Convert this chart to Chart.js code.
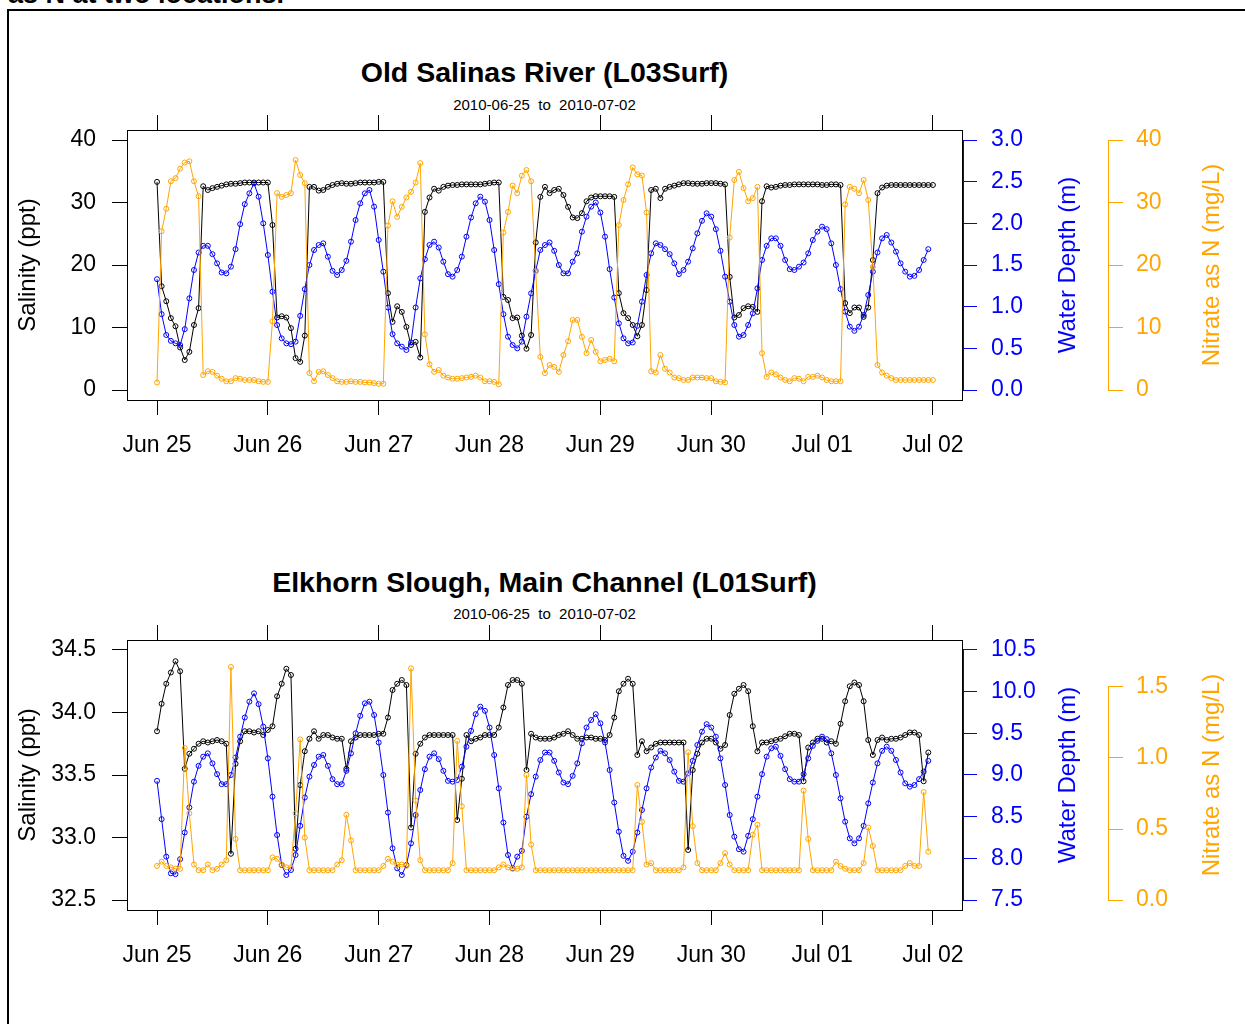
<!DOCTYPE html>
<html>
<head>
<meta charset="utf-8">
<script src="https://cdn.jsdelivr.net/npm/chart.js@4.4.0/dist/chart.umd.min.js"></script>
<style>
  body { margin:0; width:1245px; height:1024px; background:#fff; position:relative; overflow:hidden;
         font-family:"Liberation Sans", Arial, sans-serif; }
  #lead { position:absolute; left:8px; top:-19px; font-size:27px; line-height:27px; font-weight:bold; white-space:nowrap; }
  #frame { position:absolute; left:7px; top:9px; width:1400px; height:1200px; border-top:2px solid #000; border-left:2px solid #000; }
  .ttl { position:absolute; left:127px; width:835px; text-align:center; font-weight:bold; font-size:28.5px; line-height:28px; white-space:nowrap; }
  .sub { position:absolute; left:127px; width:835px; text-align:center; font-size:15px; line-height:15px; white-space:pre; }
  .yt { position:absolute; width:300px; height:24px; line-height:24px; font-size:24px; text-align:center;
        transform:rotate(-90deg); white-space:nowrap; }
  canvas { position:absolute; left:0; }
</style>
</head>
<body>
<div id="lead">as N at two locations.</div>
<div id="frame"></div>

<div class="ttl" style="top:58px">Old Salinas River (L03Surf)</div>
<div class="sub" style="top:97px">2010-06-25  to  2010-07-02</div>
<canvas id="osr" width="1245" height="370" style="top:100px"></canvas>
<div class="yt" style="left:-123px; top:253px; color:#000">Salinity (ppt)</div>
<div class="yt" style="left:917px; top:253px; color:#0000ff">Water Depth (m)</div>
<div class="yt" style="left:1061px; top:253px; color:#ffa500">Nitrate as N (mg/L)</div>

<div class="ttl" style="top:568px">Elkhorn Slough, Main Channel (L01Surf)</div>
<div class="sub" style="top:606px">2010-06-25  to  2010-07-02</div>
<canvas id="elk" width="1245" height="370" style="top:610px"></canvas>
<div class="yt" style="left:-123px; top:763px; color:#000">Salinity (ppt)</div>
<div class="yt" style="left:917px; top:763px; color:#0000ff">Water Depth (m)</div>
<div class="yt" style="left:1061px; top:763px; color:#ffa500">Nitrate as N (mg/L)</div>

<script>
// hourly readings, 2010-06-25 00:00 onwards (index = hours since start)
const dayTicks = [0, 24, 48, 72, 96, 120, 144, 168];
const dayLabels = ['Jun 25', 'Jun 26', 'Jun 27', 'Jun 28', 'Jun 29', 'Jun 30', 'Jul 01', 'Jul 02'];

// Old Salinas River (L03Surf)
const salinityOSR = [
  33.3,16.6,14.2,11.5,10.2,6.8,4.8,6.1,10.4,13.1,
  32.6,32.0,32.3,32.5,32.7,32.9,33.0,33.0,33.1,33.2,
  33.2,33.2,33.2,33.2,33.2,26.4,11.6,11.8,11.6,9.9,
  5.1,4.5,8.7,32.5,32.5,31.9,32.0,32.5,32.8,33.0,
  33.1,33.0,33.0,33.1,33.2,33.2,33.2,33.2,33.3,33.3,
  15.5,10.9,13.4,12.5,10.1,7.2,7.7,5.2,28.5,30.8,
  32.2,31.9,32.5,32.7,32.8,32.8,32.9,32.9,32.9,32.9,
  32.9,33.0,33.1,33.2,33.2,14.9,14.4,11.5,11.6,8.7,
  6.6,8.8,23.6,30.9,32.5,31.5,32.0,32.2,31.2,29.3,
  27.6,27.5,28.3,30.2,30.8,31.0,31.0,31.0,31.0,30.9,
  15.5,12.3,11.5,10.4,8.6,10.4,16.0,32.0,32.2,30.7,
  32.2,32.5,32.7,32.9,33.1,33.1,33.0,33.0,33.0,33.1,
  33.1,33.1,33.0,32.9,18.1,11.6,12.0,13.1,13.4,13.3,
  12.5,30.2,32.6,32.4,32.5,32.7,32.8,32.8,32.9,32.9,
  32.9,32.9,32.9,32.9,32.8,32.8,32.9,32.9,32.8,13.9,
  12.3,13.2,13.2,11.7,13.2,20.8,31.5,32.4,32.7,32.8,
  32.8,32.8,32.8,32.8,32.8,32.8,32.8,32.8,32.8];
const depthOSR = [
  1.33,0.91,0.66,0.59,0.56,0.54,0.73,1.10,1.44,1.65,
  1.73,1.73,1.63,1.52,1.41,1.40,1.48,1.69,1.99,2.23,
  2.36,2.48,2.32,2.00,1.62,1.18,0.78,0.62,0.56,0.55,
  0.58,0.89,1.21,1.50,1.68,1.74,1.76,1.60,1.43,1.38,
  1.44,1.55,1.78,2.04,2.24,2.36,2.40,2.20,1.80,1.42,
  0.99,0.67,0.56,0.52,0.48,0.57,0.99,1.34,1.57,1.74,
  1.78,1.71,1.54,1.39,1.36,1.44,1.60,1.84,2.07,2.24,
  2.32,2.26,2.04,1.68,1.27,0.91,0.64,0.54,0.50,0.58,
  0.88,1.16,1.43,1.68,1.74,1.77,1.67,1.50,1.40,1.40,
  1.54,1.64,1.90,2.08,2.20,2.25,2.13,1.84,1.45,1.11,
  0.80,0.62,0.56,0.57,0.77,1.06,1.38,1.64,1.76,1.74,
  1.69,1.63,1.52,1.39,1.44,1.54,1.70,1.88,2.03,2.12,
  2.08,1.93,1.67,1.36,1.06,0.78,0.64,0.66,0.78,0.92,
  1.22,1.56,1.73,1.82,1.82,1.73,1.56,1.45,1.44,1.48,
  1.53,1.64,1.80,1.90,1.96,1.93,1.76,1.50,1.21,0.94,
  0.76,0.71,0.76,0.90,1.14,1.42,1.65,1.82,1.86,1.77,
  1.66,1.52,1.42,1.36,1.37,1.44,1.56,1.69];
const nitrateOSR = [
  1.2,25.4,29.0,33.4,33.9,35.4,36.4,36.6,33.4,31.0,
  2.4,3.0,2.9,2.3,1.8,1.4,1.4,1.9,1.8,1.6,
  1.6,1.6,1.4,1.3,1.3,11.0,31.5,30.9,31.2,31.5,
  36.8,34.4,33.1,2.7,1.4,2.9,3.0,2.4,1.9,1.4,
  1.3,1.3,1.4,1.3,1.3,1.2,1.2,1.1,1.0,1.0,
  26.3,30.2,27.7,29.3,30.8,31.7,33.2,36.3,8.9,4.1,
  2.9,3.2,2.3,2.0,1.8,1.8,1.9,2.0,2.1,2.3,
  2.0,1.4,1.4,1.3,0.9,25.2,28.5,32.7,31.5,34.3,
  35.2,33.4,19.0,5.3,2.7,4.0,3.7,2.9,5.6,7.8,
  11.2,11.2,8.5,5.9,8.0,6.1,4.6,4.8,5.0,4.6,
  26.4,30.4,32.9,35.6,34.5,34.3,28.4,3.0,2.8,5.6,
  3.4,2.8,2.0,1.9,1.6,1.6,2.0,2.0,2.0,1.9,
  1.9,1.4,1.3,1.2,24.4,33.6,34.9,32.3,30.2,30.7,
  32.5,5.9,2.1,2.8,2.5,2.0,1.6,1.4,1.9,1.8,
  1.4,2.1,2.1,2.3,2.0,1.6,1.4,1.4,1.4,29.7,
  32.5,32.2,31.5,33.6,30.4,19.7,4.0,2.8,2.3,1.9,
  1.6,1.6,1.6,1.6,1.6,1.6,1.6,1.6,1.6];

// Elkhorn Slough, Main Channel (L01Surf)
const salinityELK = [
  33.85,34.07,34.23,34.32,34.41,34.33,33.55,33.67,33.71,33.75,
  33.77,33.76,33.77,33.78,33.77,33.75,32.87,33.59,33.77,33.85,
  33.85,33.84,33.85,33.82,33.86,33.89,34.13,34.23,34.35,34.30,
  32.91,33.42,33.69,33.79,33.85,33.79,33.82,33.82,33.80,33.79,
  33.79,33.55,33.77,33.80,33.82,33.82,33.82,33.82,33.83,33.83,
  33.96,34.18,34.23,34.26,34.22,33.08,33.67,33.75,33.80,33.82,
  33.82,33.82,33.82,33.82,33.82,33.14,33.47,33.82,33.77,33.79,
  33.80,33.82,33.82,33.82,33.88,34.04,34.22,34.26,34.26,34.23,
  33.54,33.83,33.80,33.79,33.79,33.79,33.80,33.82,33.83,33.85,
  33.82,33.79,33.79,33.80,33.80,33.79,33.79,33.78,33.82,33.96,
  34.17,34.23,34.27,34.23,33.66,33.77,33.69,33.72,33.75,33.76,
  33.76,33.76,33.76,33.76,33.76,32.90,33.54,33.67,33.76,33.79,
  33.79,33.76,33.71,33.74,33.98,34.15,34.19,34.22,34.17,33.89,
  33.69,33.76,33.76,33.77,33.78,33.79,33.81,33.83,33.83,33.82,
  33.45,33.72,33.76,33.79,33.79,33.76,33.77,33.75,33.91,34.09,
  34.21,34.24,34.22,34.09,33.78,33.66,33.78,33.80,33.78,33.79,
  33.79,33.80,33.82,33.84,33.84,33.82,33.45,33.68];
const depthELK = [
  8.93,8.47,8.02,7.82,7.81,7.99,8.31,8.61,8.92,9.11,
  9.22,9.26,9.14,9.01,8.89,8.89,9.00,9.21,9.46,9.69,
  9.88,9.98,9.85,9.58,9.20,8.74,8.28,7.92,7.80,7.86,
  8.04,8.39,8.73,8.98,9.12,9.22,9.24,9.11,8.95,8.89,
  8.89,9.05,9.26,9.50,9.71,9.86,9.88,9.72,9.39,9.00,
  8.55,8.12,7.88,7.80,7.92,8.18,8.52,8.82,9.07,9.22,
  9.26,9.19,9.05,8.93,8.92,8.94,9.10,9.34,9.53,9.73,
  9.82,9.77,9.57,9.24,8.84,8.43,8.04,7.88,8.02,8.09,
  8.50,8.77,8.98,9.18,9.27,9.27,9.17,9.03,8.91,8.89,
  8.99,9.14,9.38,9.57,9.66,9.73,9.62,9.39,9.06,8.67,
  8.32,8.03,7.97,8.08,8.31,8.58,8.84,9.09,9.21,9.29,
  9.26,9.18,9.04,8.93,8.92,9.02,9.17,9.36,9.52,9.61,
  9.57,9.46,9.20,8.88,8.52,8.26,8.11,8.08,8.27,8.47,
  8.74,9.01,9.22,9.32,9.34,9.23,9.07,8.95,8.92,8.92,
  9.01,9.20,9.35,9.41,9.46,9.43,9.26,9.00,8.72,8.44,
  8.24,8.18,8.24,8.39,8.66,8.91,9.14,9.29,9.34,9.29,
  9.18,9.03,8.90,8.86,8.88,8.95,9.04,9.17];
const nitrateELK = [
  0.24,0.27,0.24,0.23,0.22,0.22,1.07,0.61,0.25,0.21,
  0.21,0.25,0.21,0.22,0.25,0.28,1.64,0.43,0.21,0.21,
  0.21,0.21,0.21,0.21,0.21,0.30,0.29,0.25,0.23,0.23,
  0.61,1.13,0.44,0.21,0.21,0.21,0.21,0.21,0.21,0.25,
  0.28,0.60,0.42,0.21,0.21,0.21,0.21,0.21,0.21,0.24,
  0.29,0.27,0.25,0.25,0.24,1.63,0.70,0.28,0.21,0.21,
  0.21,0.21,0.21,0.21,0.26,1.12,0.66,0.21,0.21,0.21,
  0.21,0.21,0.21,0.21,0.23,0.25,0.23,0.22,0.22,0.23,
  0.88,0.39,0.21,0.21,0.21,0.21,0.21,0.21,0.21,0.21,
  0.21,0.21,0.21,0.21,0.21,0.21,0.21,0.21,0.21,0.21,
  0.21,0.21,0.21,0.21,0.81,0.55,0.25,0.26,0.21,0.21,
  0.21,0.21,0.21,0.21,0.23,1.04,0.52,0.26,0.21,0.21,
  0.21,0.21,0.26,0.33,0.25,0.21,0.21,0.21,0.21,0.46,
  0.53,0.21,0.21,0.21,0.21,0.21,0.21,0.21,0.21,0.21,
  0.77,0.43,0.21,0.21,0.21,0.21,0.21,0.27,0.24,0.22,
  0.21,0.21,0.21,0.26,0.51,0.38,0.21,0.21,0.21,0.21,
  0.21,0.21,0.24,0.26,0.24,0.24,0.76,0.34];

// axis tick values
const salTicksOSR = [0, 10, 20, 30, 40];
const depTicksOSR = [0, 0.5, 1, 1.5, 2, 2.5, 3];
const nitTicksOSR = [0, 10, 20, 30, 40];
const salTicksELK = [32.5, 33, 33.5, 34, 34.5];
const depTicksELK = [7.5, 8, 8.5, 9, 9.5, 10, 10.5];
const nitTicksELK = [0, 0.5, 1, 1.5];

const FONT = '"Liberation Sans", Arial, sans-serif';
const BLUE = '#0000ff';
const ORANGE = '#ffa500';

const int0 = v => String(v);
const dec1 = v => v.toFixed(1);

// box round the plot, plus the R-style axis lines that only span the tick range
const rBox = {
  id: 'rBox',
  afterDraw(chart) {
    const ctx = chart.ctx, a = chart.chartArea;
    const dep = chart.scales.dep, nit = chart.scales.nit;
    ctx.save();
    ctx.lineWidth = 1;
    ctx.strokeStyle = '#000';
    ctx.strokeRect(Math.round(a.left) + 0.5, Math.round(a.top) + 0.5,
                   Math.round(a.right - a.left), Math.round(a.bottom - a.top));
    const vline = (x, s) => {
      ctx.beginPath();
      ctx.moveTo(x, s.getPixelForValue(s.ticks[0].value));
      ctx.lineTo(x, s.getPixelForValue(s.ticks[s.ticks.length - 1].value));
      ctx.stroke();
    };
    ctx.strokeStyle = BLUE;
    vline(Math.round(a.right) + 1.5, dep);
    ctx.strokeStyle = ORANGE;
    vline(Math.round(nit.left) + 0.5, nit);
    ctx.restore();
  }
};

function xScale(pos, h, labels) {
  return {
    type: 'linear', position: pos, min: -6.5, max: 174.3,
    afterBuildTicks: s => { s.ticks = dayTicks.map(v => ({value: v})); },
    afterFit: s => { s.height = h; },
    border: {display: false},
    grid: {drawOnChartArea: false, drawTicks: true, tickLength: 15, tickColor: '#000', tickWidth: 1},
    ticks: {display: labels, autoSkip: false, maxRotation: 0, padding: 17, color: '#000',
            font: {family: FONT, size: 23},
            callback: v => dayLabels[dayTicks.indexOf(v)]}
  };
}

function yScale(pos, min, max, ticks, fmt, color, w, pad, weight) {
  return {
    type: 'linear', position: pos, min, max, weight,
    afterBuildTicks: s => { s.ticks = ticks.map(v => ({value: v})); },
    afterFit: s => { s.width = w; },
    border: {display: false},
    grid: {drawOnChartArea: false, drawTicks: true, tickLength: 15, tickColor: color, tickWidth: 1},
    ticks: {autoSkip: false, padding: pad, color, font: {family: FONT, size: 23}, callback: fmt}
  };
}

function series(label, vals, axis, color, order) {
  return {
    label, yAxisID: axis, order,
    data: vals.map((v, i) => ({x: i, y: v})),
    borderColor: color, borderWidth: 1, tension: 0,
    pointRadius: 2.5, pointBorderWidth: 1, pointBorderColor: color,
    pointBackgroundColor: 'rgba(0,0,0,0)'
  };
}

function makePanel(id, sal, dep, nit, ax) {
  return new Chart(document.getElementById(id), {
    type: 'line',
    data: {datasets: [
      series('Salinity (ppt)', sal, 'sal', '#000', 3),
      series('Water Depth (m)', dep, 'dep', BLUE, 2),
      series('Nitrate as N (mg/L)', nit, 'nit', ORANGE, 1)
    ]},
    options: {
      responsive: false, animation: false, events: [],
      layout: {padding: 0},
      plugins: {legend: {display: false}, tooltip: {enabled: false}},
      scales: {
        x: xScale('bottom', 70, true),
        xTop: xScale('top', 30, false),
        sal: yScale('left', ax.sal[0], ax.sal[1], ax.sal[2], ax.sal[3], '#000', 127, 16, 0),
        dep: yScale('right', ax.dep[0], ax.dep[1], ax.dep[2], dec1, BLUE, 146, 14, 0),
        nit: yScale('right', ax.nit[0], ax.nit[1], ax.nit[2], ax.nit[3], ORANGE, 137, 13, 1)
      }
    },
    plugins: [rBox]
  });
}

makePanel('osr', salinityOSR, depthOSR, nitrateOSR, {
  sal: [-1.6, 41.6, salTicksOSR, int0],
  dep: [-0.12, 3.12, depTicksOSR],
  nit: [-1.6, 41.6, nitTicksOSR, int0]
});
makePanel('elk', salinityELK, depthELK, nitrateELK, {
  sal: [32.42, 34.58, salTicksELK, dec1],
  dep: [7.38, 10.62, depTicksELK],
  nit: [-0.07, 1.83, nitTicksELK, dec1]
});
</script>
</body>
</html>
